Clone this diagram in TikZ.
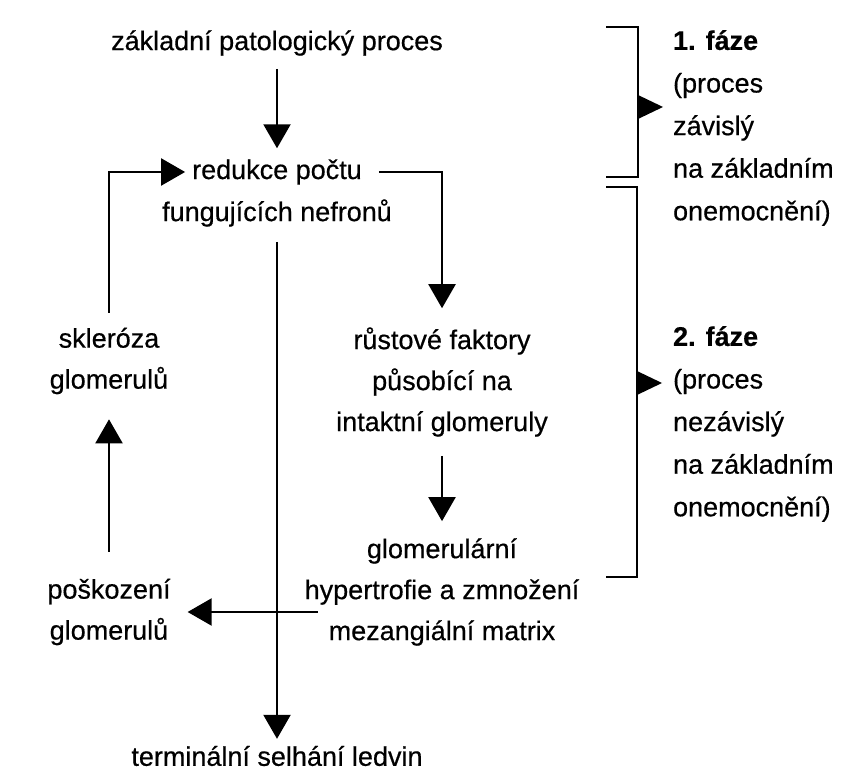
\documentclass[tikz,border=0pt]{standalone}
\usepackage{fontspec}
\setmainfont[FakeBold=0.5]{Liberation Sans}
\usepackage{tikz}
\usetikzlibrary{arrows.meta}

\begin{document}
\begin{tikzpicture}[x=0.5pt, y=-0.5pt, line width=1.1pt,
    txt/.style={align=center, inner sep=3pt, font=\fontsize{13.5}{20.5}\selectfont},
    side/.style={align=left, inner sep=0pt, anchor=west, font=\fontsize{13.5}{21.3}\selectfont},
    arr/.style={-{Triangle[width=13.5pt, length=12pt]}}]
            \useasboundingbox (0,0) rectangle (856,774);

            % Nodes
            \node[txt] (zakl) at (277,43) {základní patologický proces};
            \node[txt] (red1) at (277,172) {redukce počtu};
            \node[txt] (red2) at (277,213) {fungujících nefronů};
            \node[txt] (rust) at (442,382) {růstové faktory\\působící na\\intaktní glomeruly};
            \node[txt] (glom) at (442,592) {glomerulární\\hypertrofie a zmnožení\\mezangiální matrix};
            \node[txt] (skler) at (109,361) {skleróza\\glomerulů};
            \node[txt] (posk) at (109,612) {poškození\\glomerulů};
            \node[txt] (term) at (277,756) {terminální selhání ledvin};

            % Arrows
            \draw[arr, shorten <=3pt, shorten >=2pt] (zakl) -- (red1);
            \draw[arr, shorten <=4pt] (skler) |- (red1);
            \draw[arr, shorten <=5pt, shorten >=6pt] (red1) -| (rust);
            \draw[arr, shorten <=4pt] (red2) -- (term);
            \draw[arr, shorten <=6pt, shorten >=5pt] (rust) -- (glom);
            \draw[arr, shorten <=-10pt, shorten >=5pt] (glom.west |- posk.east) -- (posk.east);
            \draw[arr, shorten <=10pt, shorten >=9pt] (posk) -- (skler);

            % Phases
            \draw (606,27) -- (638,27) -- (638,177) -- (606,177);
            \fill (638,95) -- (663,107) -- (638,119) -- cycle;
            \draw (606,187) -- (637,187) -- (637,577) -- (606,577);
            \fill (637,371) -- (662,383) -- (637,395) -- cycle;
            \node[side] (faze1) at (672,128) {\textbf{1. fáze}\\(proces\\závislý\\na základním\\onemocnění)};
            \node[side] (faze2) at (672,424) {\textbf{2. fáze}\\(proces\\nezávislý\\na základním\\onemocnění)};

        \end{tikzpicture}
\end{document}
